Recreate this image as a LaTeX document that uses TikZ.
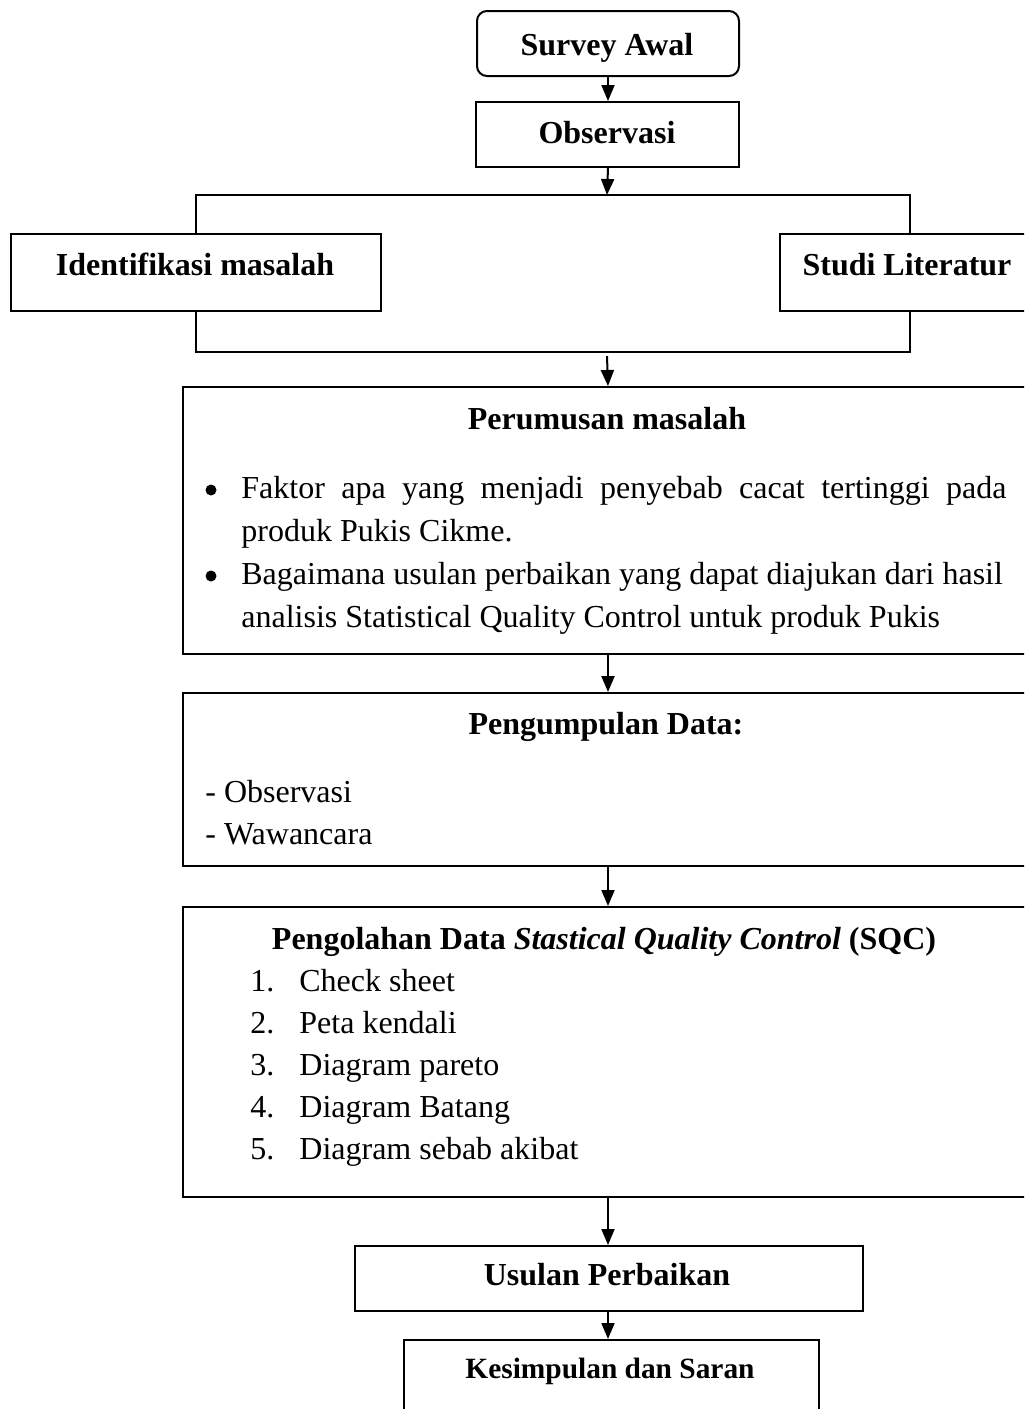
\documentclass[tikz,border=0pt]{standalone}
\usepackage{fontspec}
\setmainfont{Liberation Serif}
\usetikzlibrary{arrows.meta}
\begin{document}
\begin{tikzpicture}[x=0.5pt,y=-0.5pt,
  box/.style={draw,line width=1pt,rectangle,inner sep=0pt,anchor=north west},
  arr/.style={line width=1pt,-{Triangle[length=8pt,width=6.5pt]}},
  conn/.style={line width=1pt},
  bul/.style={circle,fill,inner sep=0pt,minimum size=5.5pt},
  ttl/.style={inner sep=0pt,anchor=base,font=\fontsize{16pt}{21.5pt}\selectfont\bfseries},
  txt/.style={inner sep=0pt,anchor=base west,font=\fontsize{16pt}{21.5pt}\selectfont}]
\clip (0,0) rectangle (1024,1409);
\fill[white] (0,0) rectangle (1024,1409);
% boxes
\node[box,rounded corners=5pt,minimum width=131pt,minimum height=32.5pt] (survey) at (476,10) {};
\node[box,minimum width=131.5pt,minimum height=32.5pt] (obs) at (475,101) {};
\node[box,minimum width=185pt,minimum height=38.5pt] (ident) at (10,233) {};
\node[box,minimum width=130pt,minimum height=38.5pt] (studi) at (779,233) {};
\node[box,minimum width=425pt,minimum height=133.5pt] (rumus) at (182,386) {};
\node[box,minimum width=425pt,minimum height=86.5pt] (kumpul) at (182,692) {};
\node[box,minimum width=425pt,minimum height=145pt] (olah) at (182,906) {};
\node[box,minimum width=254pt,minimum height=32.5pt] (usulan) at (354,1245) {};
\node[box,minimum width=207.5pt,minimum height=45pt] (simpul) at (403,1339) {};
% titles
\node[ttl] (tsurvey) at (607,55) {Survey Awal};
\node[ttl] (tobs) at (607,143) {Observasi};
\node[ttl] (tident) at (195,275) {Identifikasi masalah};
\node[ttl] (tstudi) at (907,275) {Studi Literatur};
\node[ttl] (trumus) at (607,429) {Perumusan masalah};
\node[ttl] (tkumpul) at (606,734) {Pengumpulan Data:};
\node[ttl] (tolah) at (604,949) {Pengolahan Data \textit{Stastical Quality Control} (SQC)};
\node[ttl] (tusulan) at (607,1285) {Usulan Perbaikan};
\node[ttl,font=\fontsize{14.7pt}{18pt}\selectfont\bfseries] (tsimpul) at (610,1378) {Kesimpulan dan Saran};
% Perumusan bullets
\node[bul] (b1) at (211,490) {};
\node[txt] (l1) at (241,498) {\makebox[382.5pt][s]{Faktor apa yang menjadi penyebab cacat tertinggi pada}};
\node[txt] (l2) at (241,541) {produk Pukis Cikme.};
\node[bul] (b2) at (211,576) {};
\node[txt] (l3) at (241,584) {Bagaimana usulan perbaikan yang dapat diajukan dari hasil};
\node[txt] (l4) at (241,627) {analisis Statistical Quality Control untuk produk Pukis};
% Pengumpulan items
\node[txt] (k1) at (205,802) {- Observasi};
\node[txt] (k2) at (205,844) {- Wawancara};
% Pengolahan items
\node[txt] (n1) at (250,991) {1.};
\node[txt] (o1) at (299,991) {Check sheet};
\node[txt] (n2) at (250,1033) {2.};
\node[txt] (o2) at (299,1033) {Peta kendali};
\node[txt] (n3) at (250,1075) {3.};
\node[txt] (o3) at (299,1075) {Diagram pareto};
\node[txt] (n4) at (250,1117) {4.};
\node[txt] (o4) at (299,1117) {Diagram Batang};
\node[txt] (n5) at (250,1159) {5.};
\node[txt] (o5) at (299,1159) {Diagram sebab akibat};
% connectors
\coordinate (jt) at (607,195);
\coordinate (jb) at (607,352);
\coordinate (jb2) at (607,356);
\draw[arr] (survey.south) -- (survey.south |- obs.north);
\draw[arr] (survey.south |- obs.south) -- (jt);
\draw[conn] (ident.north) |- (jt) -| (studi.north);
\draw[conn] (ident.south) |- (jb) -| (studi.south);
\draw[arr] (jb2) -- (rumus.north);
\draw[arr] (rumus.south) -- (kumpul.north);
\draw[arr] (kumpul.south) -- (olah.north);
\draw[arr] (olah.south) -- (usulan.north -| olah.south);
\draw[arr] (usulan.south -| olah.south) -- (simpul.north -| olah.south);
\end{tikzpicture}
\end{document}
